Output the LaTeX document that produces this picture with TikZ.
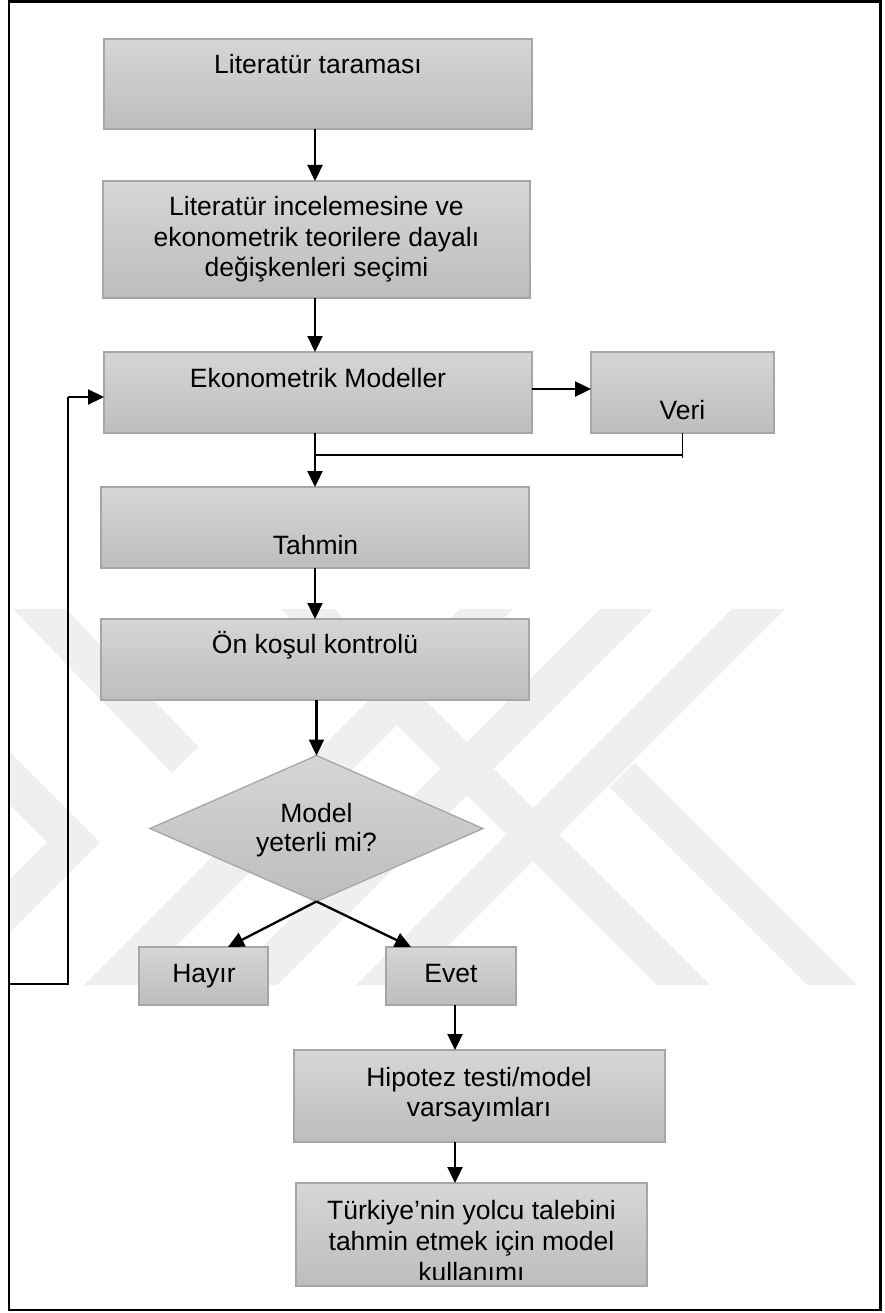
\documentclass[tikz,border=0pt]{standalone}
\usepackage{fontspec}
\setmainfont{Liberation Sans}
\usetikzlibrary{arrows.meta,shapes.geometric}
\definecolor{boxtop}{HTML}{D6D6D6}
\definecolor{boxbot}{HTML}{BDBDBD}
\definecolor{boxline}{HTML}{A6A6A6}
\definecolor{wmgray}{HTML}{EFEFEF}
\begin{document}
\begin{tikzpicture}[x=1pt,y=-1pt,
  box/.style={draw=boxline, line width=1.3pt, top color=boxtop, bottom color=boxbot,
              inner sep=0pt, outer sep=0pt},
  txt/.style={font=\fontsize{26.5}{30.5}\selectfont, inner sep=0pt, align=center, anchor=base},
  arr/.style={line width=2.3pt, -{Triangle[length=16pt,width=15pt]}},
  link/.style={line width=1.3pt},
  wm/.style={fill=wmgray}
]
\useasboundingbox (0,0) rectangle (884,1313);

% faint background emblem made of interlaced diagonal bands
\begin{scope}
  \clip (9,609) rectangle (880,985);
  % long falling band, cut where the rising band crosses over it
  \fill[wm] (13,609) -- (66,609) -- (198.5,746.5) -- (172.0,773.0) -- cycle;
  \fill[wm] (281,609) -- (334,609) -- (710,985) -- (657,985) -- cycle;
  % rising bands
  \fill[wm] (460,609) -- (513,609) -- (137,985) -- (84,985) -- cycle;
  \fill[wm] (600,609) -- (653,609) -- (277,985) -- (224,985) -- cycle;
  \fill[wm] (732,609) -- (785,609) -- (409,985) -- (356,985) -- cycle;
  % arm branching off the right-hand rising band
  \fill[wm] (609.5,787.5) -- (634.5,762.5) -- (857,985) -- (807,985) -- cycle;
  % small chevron at the left edge
  \fill[wm] (9,751) -- (100,842) -- (9,933) -- (9,880) -- (47,842) -- (9,804) -- cycle;
\end{scope}

% outer frame
\node[draw, line width=2.5pt, inner sep=0pt, outer sep=0pt,
      minimum width=871.5pt, minimum height=1308.5pt] (frame) at (444.75,655.75) {};

% process boxes
\node[box, minimum width=428pt, minimum height=90pt]  (lit)  at (318,84) {};
\node[box, minimum width=427pt, minimum height=117pt] (sel)  at (316.5,239.5) {};
\node[box, minimum width=428pt, minimum height=81pt]  (eko)  at (318,392.5) {};
\node[box, minimum width=183pt, minimum height=81pt]  (veri) at (682.5,392.5) {};
\node[box, minimum width=428pt, minimum height=81pt]  (tah)  at (315,527.5) {};
\node[box, minimum width=428pt, minimum height=81pt]  (onk)  at (315,659.5) {};
\node[box, diamond, minimum width=333pt, minimum height=146pt] (dia) at (316.5,828.5) {};
\node[box, minimum width=129pt, minimum height=58pt]  (hay)  at (203.5,976) {};
\node[box, minimum width=130pt, minimum height=58pt]  (evet) at (451,976) {};
\node[box, minimum width=371pt, minimum height=92pt]  (hip)  at (479.5,1096) {};
\node[box, minimum width=351pt, minimum height=103pt] (tur)  at (471.5,1234.5) {};

% box texts (multi-line nodes sit on the baseline of their last line)
\node[txt] (t1) at (318,74) {Literatür taraması};
\node[txt] (t2) at (316.5,277) {Literatür incelemesine ve\\ekonometrik teorilere dayalı\\değişkenleri seçimi};
\node[txt] (t3) at (318,387) {Ekonometrik Modeller};
\node[txt] (t4) at (682.5,419) {Veri};
\node[txt] (t5) at (315.5,554) {Tahmin};
\node[txt] (t6) at (315,653) {Ön koşul kontrolü};
\node[txt, font=\fontsize{26.5}{29}\selectfont] (t7) at (316.5,851) {Model\\yeterli mi?};
\node[txt] (t8) at (204,982) {Hayır};
\node[txt] (t9) at (451,982) {Evet};
\node[txt, font=\fontsize{26.5}{30}\selectfont] (t10) at (479,1116) {Hipotez testi/model\\varsayımları};
\begin{scope}
  \clip (tur.north west) rectangle ([yshift=7pt]tur.south east);
  \node[txt, font=\fontsize{26.5}{31}\selectfont] (t11) at (471.5,1281) {Türkiye’nin yolcu talebini\\tahmin etmek için model\\kullanımı};
\end{scope}

% connectors
\coordinate (spine) at (315,0);
\coordinate (rcol) at (455,0);
\coordinate (vrow) at (0,389);
\coordinate (join) at (315,455);
\coordinate (loopc) at (68,397);
\coordinate (loopb) at (68,984);

\draw[arr] (lit.south -| spine) -- (sel.north -| spine);
\draw[arr] (sel.south -| spine) -- (eko.north -| spine);
\draw[arr] (eko.east |- vrow) -- (veri.west |- vrow);
\draw[arr] (eko.south -| spine) -- (tah.north -| spine);
\draw[link] (veri.south) -- ([yshift=-25pt]veri.south);
\draw[link] (veri.south |- join) -- (join);
\draw[arr] (tah.south -| spine) -- (onk.north -| spine);
\draw[arr] (onk.south -| dia.north) -- (dia.north);
\draw[arr] (dia.south) -- ([xshift=24.5pt]hay.north);
\draw[arr] (dia.south) -- ([xshift=-40pt]evet.north);
\draw[arr] (evet.south -| rcol) -- (hip.north -| rcol);
\draw[arr] (hip.south -| rcol) -- (tur.north -| rcol);
\draw[link] (frame.west |- loopb) -- (loopb) -- (loopc);
\draw[arr] (loopc) -- (eko.west |- loopc);
\end{tikzpicture}
\end{document}
